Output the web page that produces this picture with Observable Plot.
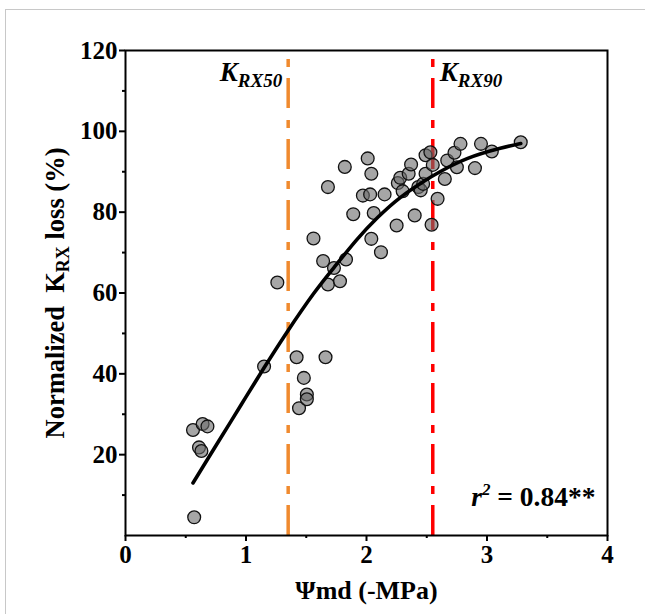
<!DOCTYPE html>
<html><head><meta charset="utf-8">
<script src="https://cdn.jsdelivr.net/npm/d3@7"></script>
<script src="https://cdn.jsdelivr.net/npm/@observablehq/plot@0.6"></script>
<style>
body{margin:0;background:#fff;}
#wrap{position:relative;width:645px;height:614px;overflow:hidden;background:#fff;}
#border{position:absolute;left:5px;top:9px;width:700px;height:700px;border:1px solid #c8c8c8;pointer-events:none;}
#wrap svg{position:absolute;left:0;top:0;}
</style></head><body><div id="wrap"><div id="border"></div></div>
<script>
// scatter observations (Ψmd, normalized K_RX loss)
const pointX = [0.57,0.56,0.64,0.68,0.61,0.63,1.15,1.26,1.42,1.44,1.48,1.505,1.505,1.56,1.64,1.66,1.68,1.68,1.73,1.78,1.83,1.82,1.89,1.97,2.01,2.03,2.04,2.04,2.06,2.12,2.15,2.25,2.26,2.28,2.30,2.35,2.37,2.40,2.43,2.45,2.47,2.49,2.49,2.53,2.54,2.55,2.59,2.65,2.67,2.73,2.75,2.78,2.90,2.95,3.04,3.28];
const pointY = [4.5,26.1,27.6,27.0,21.8,20.9,41.8,62.6,44.1,31.5,39.0,34.9,33.7,73.5,67.9,44.1,62.1,86.2,66.2,62.9,68.3,91.2,79.5,84.1,93.3,84.4,89.5,73.4,79.8,70.1,84.4,76.7,87.2,88.5,85.2,89.5,91.8,79.2,86.2,85.4,87.0,89.5,94.1,94.8,76.9,91.7,83.3,88.2,92.8,94.7,91.1,96.9,90.9,96.9,95.0,97.3];
// fitted curve
const curveX = [0.56,0.70,0.87,1.00,1.15,1.34,1.56,1.73,1.92,2.09,2.28,2.48,2.61,2.84,3.11,3.28];
const curveY = [13.0,19.8,28.0,34.3,41.5,50.3,59.8,66.3,73.2,78.6,83.6,87.7,90.0,93.3,95.8,97.0];
// thresholds
const kNames = ["K_RX50","K_RX90"];
const kValues = [1.35,2.55];
const kColors = ["#f08a2e","#ff0000"];
// ticks
const xTicks = [0,1,2,3,4];
const xMinor = [0.5,1.5,2.5,3.5];
const yTicks = [20,40,60,80,100,120];
const yMinor = [10,30,50,70,90,110];
const xTitle = "Ψmd (-MPa)";
const yTitle = "Normalized  K_RX loss (%)";
const statText = "r2 = 0.84**";

const points = pointX.map((x,i)=>({x, y:pointY[i]}));
const curve = curveX.map((x,i)=>({x, y:curveY[i]}));
const kTable = kNames.map((name,i)=>({name, x:kValues[i], color:kColors[i]}));

const FONT = "Liberation Serif";

const plot = Plot.plot({
  width: 645, height: 614,
  marginLeft: 125, marginRight: 38, marginTop: 50, marginBottom: 79,
  style: {fontSize: "24px", fontWeight: "bold", color: "#000", background: "transparent"},
  x: {domain: [0,4]},
  y: {domain: [0,120]},
  color: {type: "identity"},
  marks: [
    Plot.ruleX(kTable, {x: "x", y1: 0, y2: 118.5, stroke: "color", strokeWidth: 3.5, strokeDasharray: "30,11,8,12"}),
    Plot.dot(points, {x: "x", y: "y", r: 6.4, fill: "#6b6b6b", fillOpacity: 0.6, stroke: "#111", strokeWidth: 1.3}),
    Plot.line(curve, {x: "x", y: "y", stroke: "#000", strokeWidth: 3.6, curve: "natural"}),
    Plot.frame({stroke: "#000", strokeWidth: 2}),
    Plot.axisX({ticks: xTicks, tickFormat: d => String(d), tickSize: 6, tickPadding: 4, strokeWidth: 2, label: null, fontSize: 25, fontWeight: "bold"}),
    Plot.axisX({ticks: xMinor, tickSize: 3, strokeWidth: 2, text: null, label: null}),
    Plot.axisY({ticks: yTicks, tickFormat: d => String(d), tickSize: 6, tickPadding: 2, strokeWidth: 2, label: null, fontSize: 25, fontWeight: "bold"}),
    Plot.axisY({ticks: yMinor, tickSize: 3, strokeWidth: 2, text: null, label: null}),
    Plot.text(kTable.slice(0,1), {x: "x", y: 114.5, text: "name", textAnchor: "end", dx: -6, fontSize: 27, lineAnchor: "middle"}),
    Plot.text(kTable.slice(1), {x: "x", y: 114.5, text: "name", textAnchor: "start", dx: 7, fontSize: 27, lineAnchor: "middle"}),
    Plot.text([xTitle], {frameAnchor: "bottom", dy: 55, fontSize: 26, textAnchor: "middle", lineAnchor: "middle"}),
    Plot.text([yTitle], {frameAnchor: "left", dx: -70, rotate: -90, fontSize: 26.5, textAnchor: "middle", lineAnchor: "middle"}),
    Plot.text([statText], {frameAnchor: "bottom-right", dx: -12, dy: -38, textAnchor: "end", fontSize: 27.5, lineAnchor: "middle"})
  ]
});

function rich(t, parts){
  t.textContent = "";
  t.style.whiteSpace = "pre";
  parts.forEach(p=>{
    const s = document.createElementNS("http://www.w3.org/2000/svg","tspan");
    s.textContent = p.t;
    if (p.size) s.setAttribute("font-size", p.size);
    if (p.dy) s.setAttribute("dy", p.dy);
    if (p.italic) s.setAttribute("font-style", "italic");
    t.appendChild(s);
  });
}
plot.querySelectorAll("text").forEach(t=>{
  const s = t.textContent;
  if (s === "K_RX50" || s === "K_RX90") {
    rich(t, [{t:"K", italic:true}, {t:"RX"+s.slice(4), italic:true, size:"19px", dy:"6"}]);
  } else if (s === yTitle) {
    rich(t, [{t:"Normalized  K"}, {t:"RX", size:"18px", dy:"5"}, {t:" loss (%)", dy:"-5"}]);
  } else if (s === statText) {
    rich(t, [{t:"r", italic:true}, {t:"2", italic:true, size:"17px", dy:"-11"}, {t:" = 0.84**", dy:"11"}]);
  }
});
plot.style.setProperty("font-family", FONT, "important");
plot.querySelectorAll("g, text, tspan").forEach(el=>{
  el.setAttribute("font-family", FONT);
  el.style.setProperty("font-family", FONT, "important");
  el.style.setProperty("font-weight", "bold");
});
document.getElementById("wrap").appendChild(plot);
</script>
</body></html>
